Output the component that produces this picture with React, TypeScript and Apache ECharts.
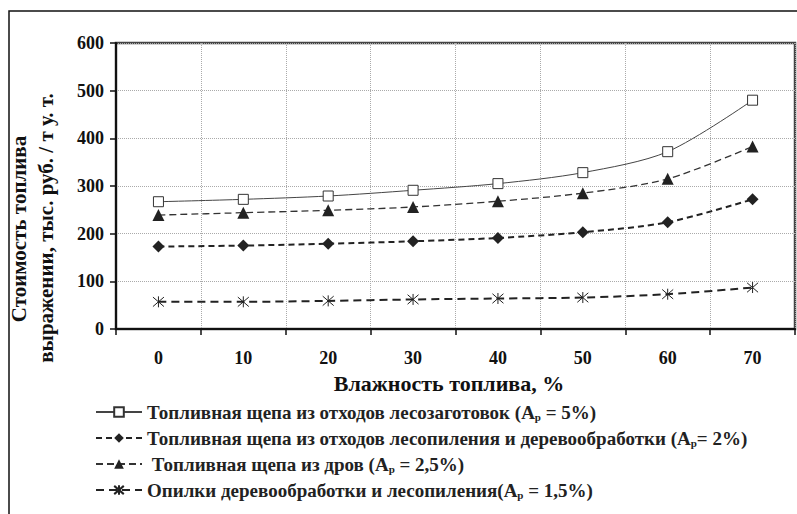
import React, { useEffect, useRef } from "react";
import * as echarts from "echarts";

const categories = ["0", "10", "20", "30", "40", "50", "60", "70"];
const yTicks = { min: 0, max: 600, interval: 100 };

const chipsLogging = [267, 272, 279, 291, 305, 328, 372, 480];
const chipsSawmill = [173, 175, 179, 184, 191, 203, 224, 272];
const chipsFirewood = [239, 244, 249, 256, 268, 285, 315, 383];
const sawdust = [57, 57, 59, 62, 64, 66, 73, 87];

const seriesNames = [
  "Топливная щепа из отходов лесозаготовок (А = 5%)",
  "Топливная щепа из отходов лесопиления и деревообработки (А= 2%)",
  " Топливная щепа из дров (А = 2,5%)",
  "Опилки деревообработки и лесопиления(А = 1,5%)",
];
const legendParts: [string, string, string][] = [
  ["Топливная щепа из отходов лесозаготовок (А", "р", " = 5%)"],
  ["Топливная щепа из отходов лесопиления и деревообработки (А", "р", "= 2%)"],
  [" Топливная щепа из дров (А", "р", " = 2,5%)"],
  ["Опилки деревообработки и лесопиления(А", "р", " = 1,5%)"],
];

const yNameLine1 = "Стоимость топлива";
const yNameLine2 = "выражении, тыс. руб. / т у. т.";
const xName = "Влажность топлива, %";

const FONT = "'Liberation Serif', 'Times New Roman', serif";
const asterisk =
  "path://M0,-5L0,5M-4.3,-4.3L4.3,4.3M-4.3,4.3L4.3,-4.3";

export default function App() {
  const ref = useRef<HTMLDivElement>(null);
  useEffect(() => {
    if (!ref.current) return;
    const chart = echarts.init(ref.current, undefined, { renderer: "svg" });
    const common = { smooth: 0.3, showSymbol: true, z: 3 };
    chart.setOption({
      animation: false,
      backgroundColor: "#fff",
      grid: {
        left: 116,
        right: 2,
        top: 43,
        bottom: 185,
        show: true,
        borderColor: "#444",
        borderWidth: 2.5,
      },
      xAxis: {
        type: "category",
        data: categories,
        boundaryGap: true,
        axisLine: { lineStyle: { color: "#111", width: 2 } },
        axisTick: { show: true, interval: 0, length: 6, lineStyle: { color: "#111", width: 1.5 } },
        splitLine: { show: true, interval: 0, lineStyle: { type: "dotted", color: "#aaa", width: 1 } },
        axisLabel: { fontFamily: FONT, fontWeight: "bold", fontSize: 18, color: "#111", margin: 20 },
      },
      yAxis: {
        type: "value",
        min: yTicks.min,
        max: yTicks.max,
        interval: yTicks.interval,
        axisLine: { show: true, lineStyle: { color: "#111", width: 2 } },
        axisTick: { show: true, length: 6, lineStyle: { color: "#111", width: 1.5 } },
        splitLine: { show: true, lineStyle: { type: "dotted", color: "#aaa", width: 1 } },
        axisLabel: { fontFamily: FONT, fontWeight: "bold", fontSize: 18, color: "#111", margin: 12 },
      },
      legend: {
        orient: "vertical",
        left: 90,
        top: 397.5,
        itemWidth: 46,
        itemHeight: 12,
        itemGap: 6.5,
        data: seriesNames,
        formatter: (name: string) => {
          const i = seriesNames.indexOf(name);
          const p = legendParts[i];
          return `{t|${p[0]}}{s|${p[1]}}{t|${p[2]}}`;
        },
        textStyle: {
          fontFamily: FONT,
          fontWeight: "bold",
          fontSize: 19,
          color: "#222",
          rich: {
            t: { fontFamily: FONT, fontWeight: "bold", fontSize: 19, color: "#222", lineHeight: 20 },
            s: { fontFamily: FONT, fontWeight: "bold", fontSize: 11, color: "#222", lineHeight: 11, verticalAlign: "bottom" },
          },
        },
      },
      graphic: [
        {
          type: "rect",
          shape: { x: 9, y: 11, width: 820, height: 540 },
          style: { fill: "none", stroke: "#111", lineWidth: 1.5 },
          silent: true,
        },
        {
          type: "text",
          x: 19,
          y: 229,
          rotation: Math.PI / 2,
          style: {
            text: yNameLine1,
            font: `bold 21px ${FONT}`,
            fill: "#111",
            textAlign: "center",
            textVerticalAlign: "middle",
          },
        },
        {
          type: "text",
          x: 46,
          y: 228,
          rotation: Math.PI / 2,
          style: {
            text: yNameLine2,
            font: `bold 21px ${FONT}`,
            fill: "#111",
            textAlign: "center",
            textVerticalAlign: "middle",
          },
        },
        {
          type: "text",
          x: 449,
          y: 383,
          style: {
            text: xName,
            font: `bold 22px ${FONT}`,
            fill: "#111",
            textAlign: "center",
            textVerticalAlign: "middle",
          },
        },
      ],
      series: [
        {
          ...common,
          name: seriesNames[0],
          type: "line",
          data: chipsLogging,
          symbol: "rect",
          symbolSize: 10,
          itemStyle: { color: "#fff", borderColor: "#333", borderWidth: 1 },
          lineStyle: { color: "#444", width: 1, type: "solid" },
        },
        {
          ...common,
          name: seriesNames[1],
          type: "line",
          data: chipsSawmill,
          symbol: "diamond",
          symbolSize: 12,
          itemStyle: { color: "#222" },
          lineStyle: { color: "#222", width: 2, type: [6, 4] },
        },
        {
          ...common,
          name: seriesNames[2],
          type: "line",
          data: chipsFirewood,
          symbol: "triangle",
          symbolSize: 12,
          itemStyle: { color: "#222" },
          lineStyle: { color: "#333", width: 1.3, type: [7, 4] },
        },
        {
          ...common,
          name: seriesNames[3],
          type: "line",
          data: sawdust,
          symbol: asterisk,
          symbolSize: 11,
          itemStyle: { color: "#222", borderColor: "#222", borderWidth: 1 },
          lineStyle: { color: "#222", width: 2, type: [8, 5] },
        },
      ],
    });
    return () => chart.dispose();
  }, []);
  return (
    <div
      ref={ref}
      style={{ position: "fixed", left: 0, top: 0, width: 797, height: 514 }}
    />
  );
}
